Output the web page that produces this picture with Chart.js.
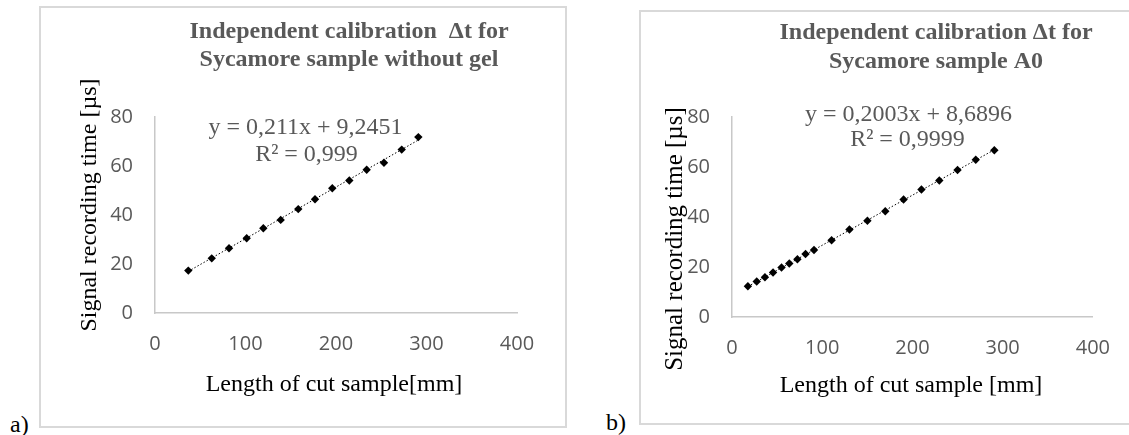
<!DOCTYPE html>
<html>
<head>
<meta charset="utf-8">
<script src="https://cdn.jsdelivr.net/npm/chart.js@4/dist/chart.umd.min.js"></script>
<style>
  html, body { margin: 0; padding: 0; background: #fff; }
  body { width: 1129px; height: 435px; position: relative; overflow: hidden; }
  .box { position: absolute; border: 2px solid #d9d9d9; box-sizing: border-box; }
  canvas { position: absolute; }
  .lbl { position: absolute; font-family: "Liberation Serif", "Times New Roman", serif; font-size: 24px; line-height: 24px; color: #000; }
</style>
</head>
<body>
<div class="box" style="left:39px;top:6px;width:528px;height:422px;"></div>
<div class="box" style="left:639px;top:10px;width:500px;height:415px;"></div>
<div class="lbl" style="left:10px;top:412px;">a)</div>
<div class="lbl" style="left:606px;top:410px;">b)</div>
<canvas id="c1" width="526" height="420" style="left:40px;top:7px;width:526px;height:420px;"></canvas>
<canvas id="c2" width="488" height="412" style="left:641px;top:12px;width:488px;height:412px;"></canvas>
<script>
// ---- Data ----
const lengthA = [36.8, 62.7, 81.8, 101.3, 119.7, 138.9, 158.3, 176.8, 195.9, 214.7, 233.9, 253.0, 272.6, 291.0];
const timeA   = [17.3, 22.3, 26.4, 30.5, 34.6, 38.0, 42.4, 46.4, 50.9, 54.1, 58.5, 61.3, 66.7, 71.8];
const trendA_x = [36.8, 291.0];
const trendA_y = [17.0, 70.6];

const lengthB = [17.6, 27.4, 36.5, 45.5, 54.9, 63.5, 72.5, 81.5, 90.9, 110.4, 130.2, 150.1, 169.9, 190.2, 210.0, 229.8, 250.0, 270.2, 290.8];
const timeB   = [12.3, 14.2, 15.9, 17.8, 19.8, 21.4, 23.1, 25.2, 26.8, 30.7, 35.0, 38.5, 42.3, 47.0, 51.0, 54.6, 58.8, 62.9, 66.7];
const trendB_x = [17.6, 290.8];
const trendB_y = [12.2, 66.9];

const xTicks = [0, 100, 200, 300, 400];
const yTicks = [0, 20, 40, 60, 80];

const titleA = ["Independent calibration  \u0394t for", "Sycamore sample without gel"];
const titleB = ["Independent calibration \u0394t for", "Sycamore sample A0"];
const eqA = ["y = 0,211x + 9,2451", "R\u00b2 = 0,999"];
const eqB = ["y = 0,2003x + 8,6896", "R\u00b2 = 0,9999"];
const xTitleA = "Length of cut sample[mm]";
const xTitleB = "Length of cut sample [mm]";
const yTitle = "Signal recording time [\u00b5s]";

const pts = (xs, ys) => xs.map((x, i) => ({ x: x, y: ys[i] }));

function textPlugin(cfg) {
  return {
    id: 'texts',
    afterDraw(chart) {
      const ctx = chart.ctx;
      ctx.save();
      ctx.textAlign = 'center';
      ctx.textBaseline = 'middle';
      // title
      ctx.fillStyle = '#595959';
      ctx.font = 'bold 24px "Liberation Serif", "Times New Roman", serif';
      cfg.title.forEach((t, i) => ctx.fillText(t, cfg.titleX, cfg.titleY[i]));
      // equation
      ctx.font = '24px "Liberation Serif", "Times New Roman", serif';
      cfg.eq.forEach((t, i) => ctx.fillText(t, cfg.eqX[i], cfg.eqY[i]));
      // axis titles
      ctx.fillStyle = '#000';
      ctx.font = '24px "Liberation Serif", "Times New Roman", serif';
      ctx.fillText(cfg.xTitle, cfg.xTitleX, cfg.xTitleY);
      ctx.translate(cfg.yTitleX, cfg.yTitleY);
      ctx.rotate(-Math.PI / 2);
      ctx.font = cfg.yTitleSize + 'px "Liberation Serif", "Times New Roman", serif';
      ctx.fillText(cfg.yTitle, 0, 0);
      ctx.restore();
    }
  };
}

function makeChart(id, xs, ys, tx, ty, layout, yAxisW, txtCfg) {
  return new Chart(document.getElementById(id), {
    type: 'scatter',
    data: {
      datasets: [
        {
          data: pts(xs, ys),
          pointStyle: 'rectRot',
          pointRadius: 4.2,
          pointBackgroundColor: '#000',
          pointBorderColor: '#000',
          pointBorderWidth: 0,
          showLine: false,
          order: 1
        },
        {
          data: pts(tx, ty),
          showLine: true,
          borderColor: '#000',
          borderWidth: 1,
          borderDash: [1.5, 2],
          pointRadius: 0,
          order: 2
        }
      ]
    },
    options: {
      responsive: false,
      animation: false,
      layout: { padding: layout },
      plugins: { legend: { display: false }, tooltip: { enabled: false }, title: { display: false } },
      scales: {
        x: {
          type: 'linear',
          min: xTicks[0], max: xTicks[xTicks.length - 1],
          afterBuildTicks: s => { s.ticks = xTicks.map(v => ({ value: v })); },
          afterFit: s => { s.height = 40; },
          grid: { display: false, drawTicks: false },
          border: { display: true, color: '#c8c8c8', width: 1.5 },
          ticks: { padding: 19, color: '#595959', font: { family: '"Open Sans", sans-serif', size: 20 }, maxRotation: 0 }
        },
        y: {
          type: 'linear',
          min: yTicks[0], max: yTicks[yTicks.length - 1],
          afterBuildTicks: s => { s.ticks = yTicks.map(v => ({ value: v })); },
          afterFit: s => { s.width = yAxisW; },
          grid: { display: false, drawTicks: false },
          border: { display: true, color: '#c8c8c8', width: 1.5 },
          ticks: { padding: 22, color: '#595959', font: { family: '"Open Sans", sans-serif', size: 20 } }
        }
      }
    },
    plugins: [textPlugin(txtCfg)]
  });
}

makeChart('c1', lengthA, timeA, trendA_x, trendA_y,
  { left: 0, top: 110, right: 49, bottom: 74 }, 115,
  { title: titleA, titleX: 309, titleY: [25, 53], eq: eqA, eqX: [265.5, 266.5], eqY: [121, 148],
    xTitle: xTitleA, xTitleX: 294, xTitleY: 378, yTitle: yTitle, yTitleSize: 24, yTitleX: 50, yTitleY: 198 });

makeChart('c2', lengthB, timeB, trendB_x, trendB_y,
  { left: 0, top: 105, right: 27, bottom: 67 }, 91,
  { title: titleB, titleX: 295, titleY: [21, 50], eq: eqB, eqX: [267.5, 266.5], eqY: [103, 128],
    xTitle: xTitleB, xTitleX: 270, xTitleY: 374, yTitle: yTitle, yTitleSize: 25, yTitleX: 34, yTitleY: 227 });
</script>
</body>
</html>
